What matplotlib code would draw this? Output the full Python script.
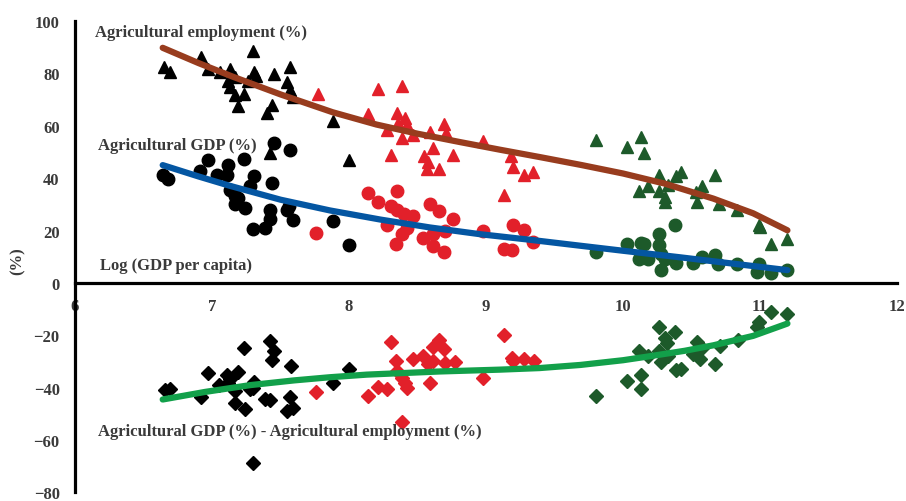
import matplotlib
matplotlib.use("Agg")
import matplotlib.pyplot as plt

# log GDP per capita / share values, three country groups
emp_black_x = [6.65, 6.69, 6.92, 6.97, 7.06, 7.13, 7.12, 7.13, 7.17, 7.17, 7.19, 7.23, 7.30, 7.31,
               7.32, 7.26, 7.40, 7.44, 7.45, 7.55, 7.57, 7.57, 7.59, 7.88, 8.00, 7.42]
emp_black_y = [82.6, 80.5, 86.4, 81.8, 80.7, 81.8, 77.3, 75.0, 78.8, 71.6, 67.4, 72.3, 88.6, 80.7,
               79.2, 77.3, 64.8, 67.8, 79.9, 76.9, 82.6, 73.5, 71.2, 61.7, 47.0, 49.6]
emp_red_x = [7.77, 8.21, 8.39, 8.14, 8.35, 8.41, 8.42, 8.28, 8.36, 8.39, 8.47, 8.31, 8.59, 8.69,
             8.71, 8.61, 8.55, 8.58, 8.57, 8.66, 8.76, 8.98, 9.18, 9.20, 9.28, 9.34, 9.13]
emp_red_y = [72.3, 73.9, 75.4, 64.4, 64.8, 62.9, 60.2, 58.3, 61.0, 55.3, 56.4, 48.9, 57.6, 60.6,
             57.2, 51.5, 48.5, 46.2, 43.6, 43.6, 48.9, 54.2, 48.5, 44.3, 41.3, 42.4, 33.7]
emp_green_x = [9.80, 10.03, 10.13, 10.15, 10.26, 10.18, 10.12, 10.26, 10.31, 10.31, 10.33, 10.39,
               10.42, 10.53, 10.58, 10.54, 10.67, 10.70, 10.83, 10.99, 11.00, 11.08, 11.20]
emp_green_y = [54.5, 51.9, 55.7, 49.6, 41.3, 37.1, 35.2, 35.2, 33.0, 31.1, 37.5, 40.9,
               42.4, 34.8, 37.1, 31.1, 41.3, 30.3, 28.0, 22.0, 21.2, 14.8, 16.7]

gdp_black_x = [6.64, 6.68, 6.91, 6.97, 7.04, 7.12, 7.11, 7.13, 7.17, 7.19, 7.17, 7.24, 7.23, 7.31,
               7.28, 7.30, 7.39, 7.42, 7.42, 7.44, 7.45, 7.57, 7.55, 7.56, 7.59, 7.88, 8.00]
gdp_black_y = [41.3, 39.8, 42.8, 47.0, 41.3, 45.0, 41.3, 35.6, 33.3, 32.6, 30.3, 28.8, 47.3, 40.9,
               37.1, 20.5, 20.8, 27.7, 24.6, 38.3, 53.4, 50.8, 27.7, 29.5, 23.9, 23.5, 14.4]
gdp_red_x = [7.76, 8.14, 8.21, 8.35, 8.31, 8.35, 8.40, 8.47, 8.28, 8.42, 8.39, 8.34, 8.59, 8.66,
             8.76, 8.70, 8.61, 8.54, 8.61, 8.69, 8.98, 9.20, 9.28, 9.34, 9.13, 9.19]
gdp_red_y = [18.9, 34.5, 31.1, 35.2, 29.5, 27.7, 26.5, 25.4, 22.3, 20.8, 18.6, 14.8, 30.3, 27.3,
             24.6, 19.7, 18.6, 17.0, 14.0, 11.7, 19.7, 22.3, 20.1, 15.5, 12.9, 12.5]
gdp_green_x = [9.80, 10.03, 10.13, 10.15, 10.12, 10.18, 10.26, 10.26, 10.38, 10.28, 10.31, 10.39,
               10.28, 10.51, 10.58, 10.67, 10.69, 10.83, 10.99, 10.98, 11.08, 11.20]
gdp_green_y = [11.7, 14.8, 15.2, 14.8, 9.1, 9.1, 18.6, 14.4, 22.0, 11.0, 9.1, 7.6,
               4.9, 7.6, 9.8, 10.6, 7.2, 7.2, 7.2, 4.2, 3.8, 4.9]

diff_black_x = [6.66, 6.69, 6.92, 6.97, 7.05, 7.11, 7.13, 7.12, 7.19, 7.17, 7.17, 7.24, 7.23, 7.30,
                7.28, 7.31, 7.42, 7.45, 7.44, 7.39, 7.42, 7.58, 7.57, 7.59, 7.55, 7.88, 8.00, 7.30]
diff_black_y = [-40.9, -40.5, -43.6, -34.5, -39.0, -35.2, -36.7, -38.3, -34.1, -41.3, -45.8, -48.1,
                -25.0, -40.2, -40.5, -37.9, -22.0, -26.1, -29.5, -44.3, -44.7, -31.8, -43.6, -47.7,
                -48.9, -38.3, -33.0, -68.6]
diff_red_x = [7.76, 8.14, 8.21, 8.28, 8.31, 8.34, 8.35, 8.39, 8.41, 8.42, 8.47, 8.54, 8.58, 8.61,
              8.61, 8.66, 8.69, 8.70, 8.77, 8.59, 8.39, 8.98, 9.13, 9.19, 9.20, 9.28, 9.35]
diff_red_y = [-41.7, -43.2, -39.8, -40.5, -22.7, -29.9, -33.7, -36.4, -38.3, -40.2, -29.2, -28.0,
              -31.1, -24.6, -29.9, -21.6, -25.4, -30.7, -30.3, -38.3, -53.0, -36.4, -19.7, -28.8,
              -29.9, -29.2, -29.9]
diff_green_x = [9.80, 10.03, 10.13, 10.13, 10.12, 10.18, 10.26, 10.26, 10.28, 10.31, 10.32, 10.33,
                10.38, 10.39, 10.42, 10.54, 10.51, 10.56, 10.58, 10.67, 10.71, 10.84, 10.98, 10.99,
                11.08, 11.20]
diff_green_y = [-43.2, -37.5, -35.2, -40.5, -25.8, -27.7, -17.0, -26.1, -30.3, -21.2, -23.1, -28.0,
                -18.6, -33.3, -33.0, -22.7, -27.3, -29.2, -25.0, -31.1, -23.9, -21.6, -17.0, -14.8,
                -11.0, -11.7]

# trend lines
emp_fit_x = [6.64, 6.90, 7.15, 7.50, 7.88, 8.20, 8.50, 8.81, 9.10, 9.40, 9.70, 10.00, 10.30,
             10.66, 10.95, 11.20]
emp_fit_y = [89.8, 84.0, 78.8, 72.0, 65.2, 60.5, 57.0, 53.8, 50.9, 48.0, 45.0, 41.8, 38.0,
             32.2, 26.6, 20.1]
gdp_fit_x = [6.64, 6.90, 7.13, 7.50, 7.86, 8.23, 8.59, 8.96, 9.32, 9.61, 10.00, 10.40, 10.80, 11.20]
gdp_fit_y = [45.0, 40.7, 37.1, 31.8, 27.7, 24.2, 21.2, 18.6, 16.5, 14.7, 12.3, 9.9, 7.4, 4.9]
diff_fit_x = [6.64, 6.95, 7.28, 7.60, 7.86, 8.13, 8.66, 9.10, 9.39, 9.69, 10.00, 10.18, 10.45,
              10.66, 10.95, 11.20]
diff_fit_y = [-44.5, -41.6, -39.0, -37.2, -36.0, -35.0, -33.8, -33.1, -32.5, -31.3, -29.5, -28.1,
              -25.9, -23.8, -20.2, -15.5]

RED = "#e2202a"
DKGREEN = "#1d5a2a"
TXT = "#3a3a3a"

plt.rcParams['font.family'] = ['Liberation Serif', 'DejaVu Serif']
plt.rcParams['font.weight'] = 'bold'

fig = plt.figure(figsize=(9.06, 5.02), dpi=100)
ax = fig.add_axes([0.0828, 0.017, 0.9073, 0.939])

for xs, ys, c in [(emp_black_x, emp_black_y, "black"), (emp_red_x, emp_red_y, RED),
                  (emp_green_x, emp_green_y, DKGREEN)]:
    ax.plot(xs, ys, "^", color=c, markersize=9, zorder=3)
for xs, ys, c in [(gdp_black_x, gdp_black_y, "black"), (gdp_red_x, gdp_red_y, RED),
                  (gdp_green_x, gdp_green_y, DKGREEN)]:
    ax.plot(xs, ys, "o", color=c, markersize=9, zorder=3)
for xs, ys, c in [(diff_black_x, diff_black_y, "black"), (diff_red_x, diff_red_y, RED),
                  (diff_green_x, diff_green_y, DKGREEN)]:
    ax.plot(xs, ys, "D", color=c, markersize=7, zorder=3)

ax.plot(emp_fit_x, emp_fit_y, color="#983c1e", lw=4.5, solid_capstyle="round",
        solid_joinstyle="round", zorder=4)
ax.plot(gdp_fit_x, gdp_fit_y, color="#0456a2", lw=4.5, solid_capstyle="round",
        solid_joinstyle="round", zorder=4)
ax.plot(diff_fit_x, diff_fit_y, color="#12a04a", lw=4.5, solid_capstyle="round",
        solid_joinstyle="round", zorder=4)

ax.set_xlim(6, 12)
ax.set_ylim(-80, 100)
ax.set_xticks(range(6, 13))
ax.set_yticks(range(-80, 101, 20))
ax.spines['top'].set_visible(False)
ax.spines['right'].set_visible(False)
ax.spines['bottom'].set_position(('data', 0))
ax.spines['bottom'].set_linewidth(2.3)
ax.spines['left'].set_linewidth(2.3)
ax.tick_params(axis='x', length=0, pad=11, labelsize=12, labelcolor=TXT)
ax.tick_params(axis='y', length=0, pad=11, labelsize=12, labelcolor=TXT)

kw = dict(fontsize=12, fontweight='bold', color=TXT, va='center', ha='left')
ax.text(6.146, 95.8, "Agricultural employment (%)", **kw)
ax.text(6.17, 52.7, "Agricultural GDP (%)", **kw)
ax.text(6.18, 6.8, "Log (GDP per capita)", **kw)
ax.text(6.17, -56.4, "Agricultural GDP (%) - Agricultural employment (%)", **kw)
fig.text(0.019, 0.48, "(%)", rotation=90, fontsize=12, fontweight='bold', color=TXT,
         va='center', ha='center')

fig.savefig("out.png", dpi=100)
